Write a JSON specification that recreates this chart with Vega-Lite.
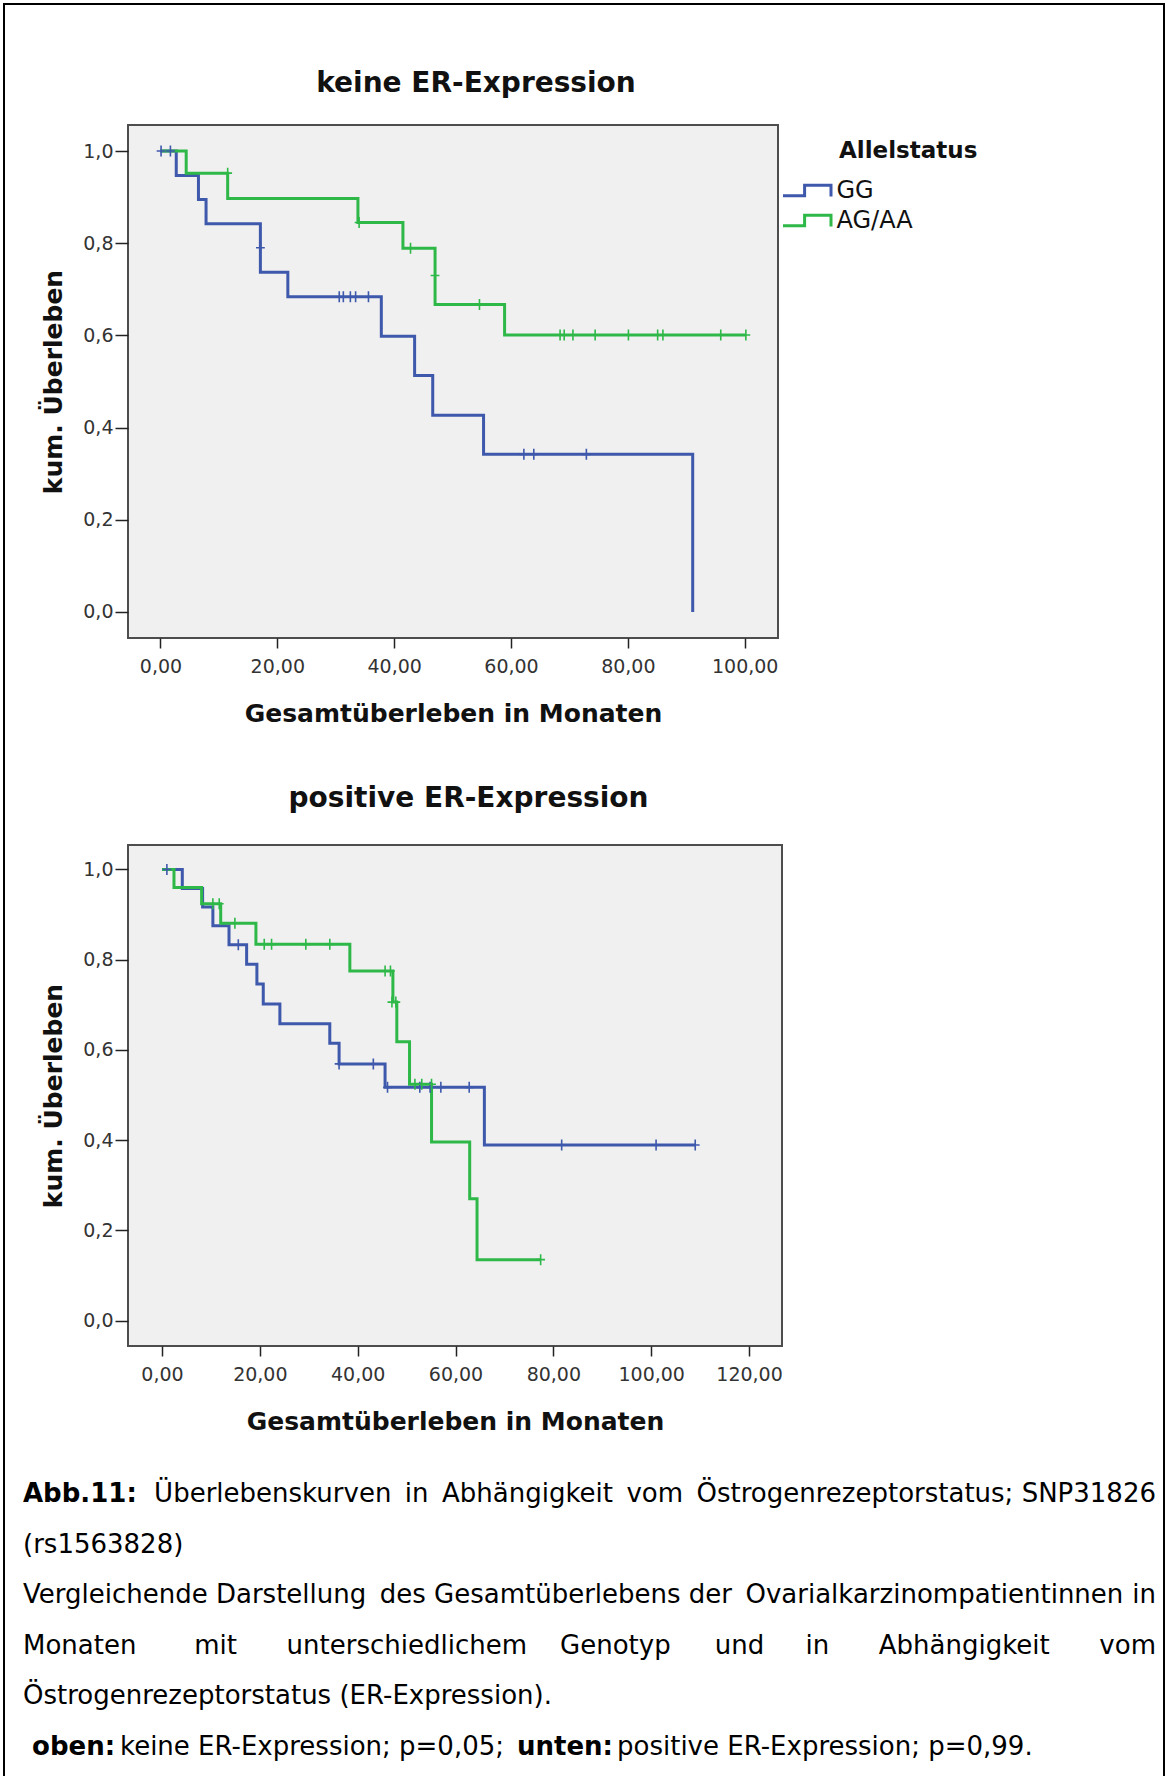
{
  "$schema": "https://vega.github.io/schema/vega-lite/v6.json",
  "background": "white",
  "padding": 3,
  "autosize": {"type": "pad"},
  "bounds": "flush",
  "spacing": 207,
  "config": {
    "font": "DejaVu Sans",
    "view": {"stroke": "#4d4d4d", "strokeWidth": 2, "fill": "#f0f0f0"},
    "axis": {"grid": false, "domain": false, "tickColor": "#222222", "tickWidth": 1.5, "labelColor": "#333333", "labelFont": "DejaVu Sans", "labelFontSize": 19, "labelFlush": false, "titleColor": "#111111", "titleFont": "DejaVu Sans", "titleFontSize": 25, "titleFontWeight": "bold"},
    "axisX": {"tickSize": 10, "labelPadding": 9, "titlePadding": 25},
    "axisY": {"tickSize": 13, "labelPadding": 2, "titlePadding": 16},
    "title": {"font": "DejaVu Sans", "fontSize": 28, "fontWeight": "bold", "color": "#111111", "anchor": "middle", "frame": "group"},
    "legend": {
      "orient": "none", "legendX": 655, "legendY": 15, "padding": 0,
      "titleFont": "DejaVu Sans", "titleFontSize": 23, "titleFontWeight": "bold", "titleColor": "#111111", "titlePadding": 14, "titleLimit": 600,
      "labelFont": "DejaVu Sans", "labelFontSize": 24, "labelColor": "#111111", "labelOffset": 16, "labelLimit": 400,
      "symbolType": "M-2,0.44H-0.2V-0.44H2V0.5", "symbolSize": 576, "symbolOffset": 10.5, "symbolStrokeWidth": 3, "symbolFillColor": "transparent",
      "rowPadding": 4
    }
  },
  "datasets": {
    "top": [
      {"group": "GG", "kind": "step", "time": 0, "surv": 1},
      {"group": "GG", "kind": "step", "time": 2.7, "surv": 0.947},
      {"group": "GG", "kind": "step", "time": 6.5, "surv": 0.895},
      {"group": "GG", "kind": "step", "time": 7.8, "surv": 0.842},
      {"group": "GG", "kind": "step", "time": 17.1, "surv": 0.737},
      {"group": "GG", "kind": "step", "time": 21.8, "surv": 0.684},
      {"group": "GG", "kind": "step", "time": 37.8, "surv": 0.598},
      {"group": "GG", "kind": "step", "time": 43.5, "surv": 0.513},
      {"group": "GG", "kind": "step", "time": 46.6, "surv": 0.427},
      {"group": "GG", "kind": "step", "time": 55.3, "surv": 0.342},
      {"group": "GG", "kind": "step", "time": 91.1, "surv": 0},
      {"group": "GG", "kind": "censor", "time": 0.1, "surv": 1},
      {"group": "GG", "kind": "censor", "time": 1.7, "surv": 1},
      {"group": "GG", "kind": "censor", "time": 17.1, "surv": 0.79},
      {"group": "GG", "kind": "censor", "time": 30.6, "surv": 0.684},
      {"group": "GG", "kind": "censor", "time": 31.3, "surv": 0.684},
      {"group": "GG", "kind": "censor", "time": 32.5, "surv": 0.684},
      {"group": "GG", "kind": "censor", "time": 33.4, "surv": 0.684},
      {"group": "GG", "kind": "censor", "time": 35.6, "surv": 0.684},
      {"group": "GG", "kind": "censor", "time": 62.2, "surv": 0.342},
      {"group": "GG", "kind": "censor", "time": 63.9, "surv": 0.342},
      {"group": "GG", "kind": "censor", "time": 72.9, "surv": 0.342},
      {"group": "AG/AA", "kind": "step", "time": 0, "surv": 1},
      {"group": "AG/AA", "kind": "step", "time": 4.4, "surv": 0.952},
      {"group": "AG/AA", "kind": "step", "time": 11.5, "surv": 0.897},
      {"group": "AG/AA", "kind": "step", "time": 33.8, "surv": 0.845},
      {"group": "AG/AA", "kind": "step", "time": 41.5, "surv": 0.789},
      {"group": "AG/AA", "kind": "step", "time": 47.0, "surv": 0.667},
      {"group": "AG/AA", "kind": "step", "time": 58.9, "surv": 0.601},
      {"group": "AG/AA", "kind": "step", "time": 100.2, "surv": 0.601},
      {"group": "AG/AA", "kind": "censor", "time": 11.5, "surv": 0.952},
      {"group": "AG/AA", "kind": "censor", "time": 34.0, "surv": 0.845},
      {"group": "AG/AA", "kind": "censor", "time": 42.8, "surv": 0.789},
      {"group": "AG/AA", "kind": "censor", "time": 47.0, "surv": 0.73},
      {"group": "AG/AA", "kind": "censor", "time": 54.6, "surv": 0.667},
      {"group": "AG/AA", "kind": "censor", "time": 68.4, "surv": 0.601},
      {"group": "AG/AA", "kind": "censor", "time": 69.1, "surv": 0.601},
      {"group": "AG/AA", "kind": "censor", "time": 70.6, "surv": 0.601},
      {"group": "AG/AA", "kind": "censor", "time": 74.4, "surv": 0.601},
      {"group": "AG/AA", "kind": "censor", "time": 80.1, "surv": 0.601},
      {"group": "AG/AA", "kind": "censor", "time": 85.1, "surv": 0.601},
      {"group": "AG/AA", "kind": "censor", "time": 86.0, "surv": 0.601},
      {"group": "AG/AA", "kind": "censor", "time": 95.9, "surv": 0.601},
      {"group": "AG/AA", "kind": "censor", "time": 100.2, "surv": 0.601}
    ],
    "bottom": [
      {"group": "GG", "kind": "step", "time": 0, "surv": 1},
      {"group": "GG", "kind": "step", "time": 4.15, "surv": 0.958},
      {"group": "GG", "kind": "step", "time": 8.3, "surv": 0.917},
      {"group": "GG", "kind": "step", "time": 10.4, "surv": 0.875},
      {"group": "GG", "kind": "step", "time": 13.7, "surv": 0.833},
      {"group": "GG", "kind": "step", "time": 17.3, "surv": 0.79},
      {"group": "GG", "kind": "step", "time": 19.4, "surv": 0.746},
      {"group": "GG", "kind": "step", "time": 20.7, "surv": 0.702},
      {"group": "GG", "kind": "step", "time": 24.1, "surv": 0.658},
      {"group": "GG", "kind": "step", "time": 34.3, "surv": 0.615},
      {"group": "GG", "kind": "step", "time": 36.2, "surv": 0.569},
      {"group": "GG", "kind": "step", "time": 45.6, "surv": 0.517},
      {"group": "GG", "kind": "step", "time": 65.9, "surv": 0.389},
      {"group": "GG", "kind": "step", "time": 109.0, "surv": 0.389},
      {"group": "GG", "kind": "censor", "time": 1.0, "surv": 1},
      {"group": "GG", "kind": "censor", "time": 15.6, "surv": 0.833},
      {"group": "GG", "kind": "censor", "time": 36.2, "surv": 0.569},
      {"group": "GG", "kind": "censor", "time": 43.2, "surv": 0.569},
      {"group": "GG", "kind": "censor", "time": 46.1, "surv": 0.517},
      {"group": "GG", "kind": "censor", "time": 52.7, "surv": 0.517},
      {"group": "GG", "kind": "censor", "time": 54.8, "surv": 0.517},
      {"group": "GG", "kind": "censor", "time": 57.0, "surv": 0.517},
      {"group": "GG", "kind": "censor", "time": 62.8, "surv": 0.517},
      {"group": "GG", "kind": "censor", "time": 81.7, "surv": 0.389},
      {"group": "GG", "kind": "censor", "time": 101.0, "surv": 0.389},
      {"group": "GG", "kind": "censor", "time": 109.0, "surv": 0.389},
      {"group": "AG/AA", "kind": "step", "time": 0, "surv": 1},
      {"group": "AG/AA", "kind": "step", "time": 2.45, "surv": 0.96},
      {"group": "AG/AA", "kind": "step", "time": 8.1, "surv": 0.924},
      {"group": "AG/AA", "kind": "step", "time": 12.0, "surv": 0.881},
      {"group": "AG/AA", "kind": "step", "time": 19.2, "surv": 0.834},
      {"group": "AG/AA", "kind": "step", "time": 38.4, "surv": 0.775},
      {"group": "AG/AA", "kind": "step", "time": 47.2, "surv": 0.706},
      {"group": "AG/AA", "kind": "step", "time": 48.0, "surv": 0.618},
      {"group": "AG/AA", "kind": "step", "time": 50.6, "surv": 0.524},
      {"group": "AG/AA", "kind": "step", "time": 55.1, "surv": 0.396},
      {"group": "AG/AA", "kind": "step", "time": 62.9, "surv": 0.27},
      {"group": "AG/AA", "kind": "step", "time": 64.4, "surv": 0.135},
      {"group": "AG/AA", "kind": "step", "time": 77.4, "surv": 0.135},
      {"group": "AG/AA", "kind": "censor", "time": 10.4, "surv": 0.924},
      {"group": "AG/AA", "kind": "censor", "time": 11.7, "surv": 0.924},
      {"group": "AG/AA", "kind": "censor", "time": 14.9, "surv": 0.881},
      {"group": "AG/AA", "kind": "censor", "time": 20.9, "surv": 0.834},
      {"group": "AG/AA", "kind": "censor", "time": 22.4, "surv": 0.834},
      {"group": "AG/AA", "kind": "censor", "time": 29.4, "surv": 0.834},
      {"group": "AG/AA", "kind": "censor", "time": 34.3, "surv": 0.834},
      {"group": "AG/AA", "kind": "censor", "time": 45.6, "surv": 0.775},
      {"group": "AG/AA", "kind": "censor", "time": 46.7, "surv": 0.775},
      {"group": "AG/AA", "kind": "censor", "time": 47.0, "surv": 0.706},
      {"group": "AG/AA", "kind": "censor", "time": 47.8, "surv": 0.706},
      {"group": "AG/AA", "kind": "censor", "time": 51.7, "surv": 0.524},
      {"group": "AG/AA", "kind": "censor", "time": 53.1, "surv": 0.524},
      {"group": "AG/AA", "kind": "censor", "time": 55.1, "surv": 0.524},
      {"group": "AG/AA", "kind": "censor", "time": 77.4, "surv": 0.135}
    ],
    "caption": [
      {"line": 1, "part": "bl", "text": "Abb.11:"},
      {"line": 1, "part": "nr", "text": "Überlebenskurven\u00a0\u2009in\u00a0\u2009Abhängigkeit\u00a0\u2009vom\u00a0\u2009Östrogenrezeptorstatus; SNP31826"},
      {"line": 2, "part": "nl", "text": "(rs1563828)"},
      {"line": 3, "part": "nl", "text": "Vergleichende Darstellung\u2009 des Gesamtüberlebens der\u2009 Ovarialkarzinompatientinnen"},
      {"line": 3, "part": "nr", "text": "in"},
      {"line": 4, "part": "nl", "text": "Monaten\u00a0\u00a0\u00a0\u00a0\u00a0\u00a0\u00a0mit\u00a0\u00a0\u00a0\u00a0\u00a0\u00a0unterschiedlichem\u00a0\u00a0\u00a0\u00a0Genotyp"},
      {"line": 4, "part": "nr", "text": "und\u00a0\u00a0\u00a0\u00a0\u00a0in\u00a0\u00a0\u00a0\u00a0\u00a0\u00a0Abhängigkeit\u00a0\u00a0\u00a0\u00a0\u00a0\u00a0vom"},
      {"line": 5, "part": "nl", "text": "Östrogenrezeptorstatus (ER-Expression)."},
      {"line": 6, "part": "bl", "text": "\u200b\u00a0oben:"},
      {"line": 6, "part": "n6a", "text": "keine ER-Expression; p=0,05;"},
      {"line": 6, "part": "b6b", "text": "unten:"},
      {"line": 6, "part": "n6b", "text": "positive ER-Expression; p=0,99."}
    ]
  },
  "vconcat": [
    {
      "width": 650,
      "height": 513,
      "data": {"name": "top"},
      "title": {"text": "keine ER-Expression", "offset": 27.5, "dx": 23},
      "layer": [
        {
          "transform": [{"filter": "datum.kind == 'step'"}],
          "mark": {"type": "line", "interpolate": "step-after", "strokeWidth": 3, "strokeJoin": "miter"},
          "encoding": {
            "x": {"field": "time", "type": "quantitative", "scale": {"domain": [-5.56, 105.7], "nice": false, "zero": false}, "axis": {"values": [0, 20, 40, 60, 80, 100], "labelExpr": "replace(format(datum.value, '.2f'), '.', ',')", "title": "Gesamtüberleben in Monaten"}},
            "y": {"field": "surv", "type": "quantitative", "scale": {"domain": [-0.0564, 1.0564], "nice": false, "zero": false}, "axis": {"values": [0, 0.2, 0.4, 0.6, 0.8, 1], "labelExpr": "replace(format(datum.value, '.1f'), '.', ',')", "title": "kum. Überleben"}},
            "color": {"field": "group", "type": "nominal", "scale": {"domain": ["GG", "AG/AA"], "range": ["#3E58AC", "#2EB848"]}, "legend": {"title": "\u200b\u00a0\u00a0\u00a0\u00a0\u00a0\u00a0\u00a0Allelstatus"}}
          }
        },
        {
          "transform": [{"filter": "datum.kind == 'censor'"}],
          "mark": {"type": "point", "shape": "M-0.8,0H0.8M0,-1V1", "size": 121, "strokeWidth": 1.6, "filled": false, "opacity": 1},
          "encoding": {
            "x": {"field": "time", "type": "quantitative"},
            "y": {"field": "surv", "type": "quantitative"},
            "stroke": {"field": "group", "type": "nominal", "scale": {"domain": ["GG", "AG/AA"], "range": ["#3E58AC", "#2EB848"]}, "legend": null}
          }
        }
      ]
    },
    {
      "width": 654,
      "height": 501,
      "data": {"name": "bottom"},
      "title": {"text": "positive ER-Expression", "offset": 32, "dx": 13.5},
      "layer": [
        {
          "transform": [{"filter": "datum.kind == 'step'"}],
          "mark": {"type": "line", "interpolate": "step-after", "strokeWidth": 3, "strokeJoin": "miter"},
          "encoding": {
            "x": {"field": "time", "type": "quantitative", "scale": {"domain": [-6.95, 126.74], "nice": false, "zero": false}, "axis": {"values": [0, 20, 40, 60, 80, 100, 120], "labelExpr": "replace(format(datum.value, '.2f'), '.', ',')", "title": "Gesamtüberleben in Monaten"}},
            "y": {"field": "surv", "type": "quantitative", "scale": {"domain": [-0.0565, 1.0543], "nice": false, "zero": false}, "axis": {"values": [0, 0.2, 0.4, 0.6, 0.8, 1], "labelExpr": "replace(format(datum.value, '.1f'), '.', ',')", "title": "kum. Überleben"}},
            "color": {"field": "group", "type": "nominal", "scale": {"domain": ["GG", "AG/AA"], "range": ["#3E58AC", "#2EB848"]}, "legend": {"title": "\u200b\u00a0\u00a0\u00a0\u00a0\u00a0\u00a0\u00a0Allelstatus"}}
          }
        },
        {
          "transform": [{"filter": "datum.kind == 'censor'"}],
          "mark": {"type": "point", "shape": "M-0.8,0H0.8M0,-1V1", "size": 121, "strokeWidth": 1.6, "filled": false, "opacity": 1},
          "encoding": {
            "x": {"field": "time", "type": "quantitative"},
            "y": {"field": "surv", "type": "quantitative"},
            "stroke": {"field": "group", "type": "nominal", "scale": {"domain": ["GG", "AG/AA"], "range": ["#3E58AC", "#2EB848"]}, "legend": null}
          }
        }
      ]
    },
    {
      "width": 1000,
      "height": 200,
      "view": {"stroke": null, "fill": null},
      "data": {"name": "caption"},
      "layer": [
        {
          "transform": [{"filter": "datum.part == 'nl'"}],
          "mark": {"type": "text", "align": "left", "baseline": "middle", "font": "DejaVu Sans", "fontSize": 26, "color": "#000000"},
          "encoding": {
            "x": {"value": -105},
            "y": {"field": "line", "type": "quantitative", "scale": {"domain": [1, 6], "range": [-59, 194]}, "axis": null},
            "text": {"field": "text"}
          }
        },
        {
          "transform": [{"filter": "datum.part == 'bl'"}],
          "mark": {"type": "text", "align": "left", "baseline": "middle", "font": "DejaVu Sans", "fontSize": 26, "fontWeight": "bold", "color": "#000000"},
          "encoding": {
            "x": {"value": -105},
            "y": {"field": "line", "type": "quantitative", "axis": null},
            "text": {"field": "text"}
          }
        },
        {
          "transform": [{"filter": "datum.part == 'nr'"}],
          "mark": {"type": "text", "align": "right", "baseline": "middle", "font": "DejaVu Sans", "fontSize": 26, "color": "#000000"},
          "encoding": {
            "x": {"value": 1028},
            "y": {"field": "line", "type": "quantitative", "axis": null},
            "text": {"field": "text"}
          }
        },
        {
          "transform": [{"filter": "datum.part == 'n6a'"}],
          "mark": {"type": "text", "align": "left", "baseline": "middle", "font": "DejaVu Sans", "fontSize": 26, "color": "#000000"},
          "encoding": {
            "x": {"value": -8},
            "y": {"field": "line", "type": "quantitative", "axis": null},
            "text": {"field": "text"}
          }
        },
        {
          "transform": [{"filter": "datum.part == 'b6b'"}],
          "mark": {"type": "text", "align": "left", "baseline": "middle", "font": "DejaVu Sans", "fontSize": 26, "fontWeight": "bold", "color": "#000000"},
          "encoding": {
            "x": {"value": 389},
            "y": {"field": "line", "type": "quantitative", "axis": null},
            "text": {"field": "text"}
          }
        },
        {
          "transform": [{"filter": "datum.part == 'n6b'"}],
          "mark": {"type": "text", "align": "left", "baseline": "middle", "font": "DejaVu Sans", "fontSize": 26, "color": "#000000"},
          "encoding": {
            "x": {"value": 489},
            "y": {"field": "line", "type": "quantitative", "axis": null},
            "text": {"field": "text"}
          }
        },
        {
          "data": {"values": [{}]},
          "mark": {"type": "rect", "filled": false, "stroke": "#000000", "strokeWidth": 2},
          "encoding": {
            "x": {"value": -124},
            "x2": {"value": 1036},
            "y": {"value": -1549},
            "y2": {"value": 260}
          }
        }
      ]
    }
  ]
}
